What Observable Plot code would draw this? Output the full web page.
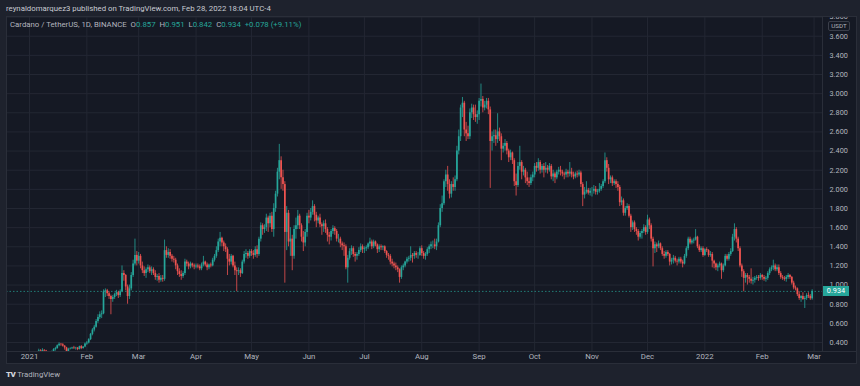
<!DOCTYPE html>
<html><head><meta charset="utf-8">
<script src="https://cdn.jsdelivr.net/npm/d3@7"></script>
<script src="https://cdn.jsdelivr.net/npm/@observablehq/plot@0.6"></script>
<style>
html,body{margin:0;padding:0;background:#1e222d;}
#wrap{position:relative;width:860px;height:386px;background:#1e222d;overflow:hidden;font-family:Roboto,"Noto Sans",sans-serif;}
#title{position:absolute;left:6px;top:4px;font-size:7.8px;color:#c8cbd2;white-space:pre;line-height:10px;}
#chart{position:absolute;left:6px;top:16px;width:851px;height:348px;}
#frame{position:absolute;left:6px;top:16px;width:849px;height:346px;border:1px solid #2a2e39;pointer-events:none;}
#hsep{position:absolute;left:6px;top:351px;width:851px;height:1px;background:#2a2e39;}
#legend{position:absolute;left:10px;top:20px;font-size:7.8px;color:#b2b5be;white-space:pre;line-height:10px;}
#legend .v{color:#26a69a;}
#usdt{position:absolute;left:828px;top:21px;width:20px;height:8px;border:1px solid #3a3e49;border-radius:2px;font-size:6.2px;color:#b2b5be;text-align:center;line-height:8px;background:#151924;}
#tag{position:absolute;left:823px;width:26px;height:10px;background:#26a69a;color:#fff;font-size:7.3px;text-align:center;line-height:10px;}
#brand{position:absolute;left:6px;top:370px;font-size:7.8px;color:#b2b5be;white-space:pre;line-height:10px;}
#brand b{font-weight:900;letter-spacing:-0.5px;color:#d1d4dc;font-size:8px;}
</style></head>
<body><div id="wrap">
<div id="title">reynaldomarquez3 published on TradingView.com, Feb 28, 2022 18:04 UTC-4</div>
<div id="chart"></div>
<div id="hsep"></div>
<div id="frame"></div>
<div id="legend"></div>
<div id="usdt">USDT</div>
<div id="tag"></div>
<div id="brand"><b>TV</b> TradingView</div>
</div>
<script>
// Daily candles ADA/USDT (Binance), first day 2021-01-04; open = previous close
const firstDay = "2021-01-04";
const firstOpen = 0.205;
const close = [
// Jan 2021 (4..31)
0.225,0.258,0.312,0.305,0.318,0.311,0.291,0.275,0.286,0.304,0.325,0.336,0.366,0.382,0.376,0.362,0.343,0.300,0.330,0.334,0.343,0.336,0.341,0.328,0.357,0.337,0.352,0.384,
// Feb 2021
0.395,0.430,0.485,0.530,0.560,0.620,0.660,0.690,0.700,0.930,0.940,0.910,0.880,0.850,0.870,0.900,0.920,0.890,0.930,1.120,1.100,0.980,0.880,0.960,1.100,1.220,1.310,1.250,
// Mar 2021
1.30,1.20,1.15,1.12,1.16,1.18,1.14,1.16,1.12,1.08,1.09,1.05,1.07,1.06,1.36,1.31,1.34,1.30,1.27,1.26,1.20,1.14,1.11,1.09,1.12,1.24,1.22,1.19,1.22,1.20,1.19,
// Apr 2021
1.20,1.19,1.17,1.21,1.24,1.21,1.18,1.21,1.20,1.26,1.30,1.36,1.45,1.49,1.44,1.40,1.37,1.27,1.24,1.30,1.20,1.15,1.14,1.15,1.12,1.24,1.32,1.33,1.30,1.35,
// May 2021
1.33,1.31,1.37,1.32,1.48,1.62,1.58,1.60,1.70,1.64,1.72,1.58,1.80,1.95,2.18,2.30,2.12,2.05,1.55,1.75,1.45,1.48,1.30,1.58,1.62,1.72,1.62,1.50,1.44,1.55,1.72,
// Jun 2021
1.70,1.76,1.82,1.73,1.67,1.70,1.63,1.61,1.64,1.58,1.52,1.50,1.56,1.59,1.56,1.48,1.48,1.43,1.41,1.40,1.18,1.28,1.35,1.38,1.32,1.30,1.32,1.36,1.40,1.37,
// Jul 2021
1.38,1.39,1.43,1.45,1.40,1.45,1.42,1.37,1.40,1.39,1.40,1.35,1.31,1.30,1.24,1.22,1.20,1.18,1.16,1.08,1.18,1.20,1.24,1.27,1.28,1.31,1.30,1.33,1.31,1.31,1.38,
// Aug 2021
1.33,1.30,1.32,1.37,1.40,1.42,1.42,1.40,1.45,1.62,1.80,1.85,2.08,2.15,2.05,1.95,2.05,2.02,2.10,2.40,2.55,2.85,2.90,2.62,2.58,2.55,2.80,2.85,2.78,2.75,2.78,
// Sep 2021
2.92,2.94,2.85,2.88,2.92,2.83,2.50,2.55,2.56,2.52,2.60,2.55,2.42,2.45,2.48,2.40,2.33,2.38,2.30,2.08,2.04,2.24,2.28,2.18,2.20,2.12,2.08,2.06,2.12,2.15,
// Oct 2021
2.24,2.22,2.28,2.20,2.24,2.20,2.22,2.20,2.24,2.13,2.16,2.12,2.18,2.20,2.18,2.16,2.15,2.18,2.16,2.18,2.15,2.13,2.16,2.15,2.17,2.05,1.94,1.97,1.99,1.96,1.98,
// Nov 2021
1.98,2.00,1.97,1.98,2.00,2.03,2.08,2.30,2.22,2.10,2.12,2.06,2.08,2.05,2.02,1.86,1.88,1.75,1.80,1.82,1.72,1.60,1.65,1.58,1.56,1.50,1.54,1.56,1.60,1.55,
// Dec 2021
1.68,1.62,1.48,1.38,1.42,1.40,1.43,1.38,1.32,1.30,1.34,1.32,1.24,1.26,1.28,1.25,1.24,1.27,1.24,1.22,1.30,1.38,1.48,1.44,1.46,1.47,1.50,1.40,1.36,1.38,1.31,
// Jan 2022
1.37,1.36,1.31,1.32,1.25,1.22,1.18,1.20,1.22,1.15,1.20,1.30,1.27,1.32,1.35,1.50,1.58,1.48,1.38,1.20,1.14,1.07,1.10,1.08,1.06,1.04,1.05,1.07,1.08,1.07,1.10,
// Feb 2022
1.08,1.06,1.07,1.12,1.16,1.18,1.20,1.16,1.18,1.12,1.08,1.07,1.06,1.08,1.10,1.08,1.02,0.97,0.96,0.90,0.86,0.88,0.85,0.86,0.89,0.88,0.857,0.934
];
const high = [
0.240,0.265,0.330,0.325,0.335,0.325,0.318,0.298,0.300,0.310,0.336,0.350,0.375,0.397,0.390,0.388,0.368,0.350,0.340,0.345,0.350,0.360,0.350,0.348,0.362,0.368,0.358,0.395,
0.410,0.440,0.495,0.545,0.580,0.640,0.690,0.720,0.730,0.950,0.960,0.955,0.930,0.895,0.890,0.915,0.945,0.935,0.950,1.200,1.150,1.110,1.000,1.000,1.130,1.260,1.480,1.350,
1.34,1.32,1.24,1.19,1.18,1.21,1.20,1.19,1.18,1.15,1.11,1.12,1.10,1.10,1.47,1.40,1.38,1.37,1.32,1.30,1.28,1.22,1.17,1.15,1.14,1.27,1.26,1.24,1.24,1.23,1.22,
1.22,1.22,1.21,1.23,1.30,1.25,1.23,1.22,1.23,1.28,1.32,1.40,1.48,1.55,1.50,1.46,1.43,1.39,1.32,1.32,1.31,1.24,1.18,1.18,1.17,1.26,1.35,1.37,1.35,1.37,
1.37,1.36,1.40,1.41,1.50,1.65,1.64,1.63,1.74,1.72,1.75,1.76,1.85,1.98,2.22,2.47,2.34,2.20,2.08,1.82,1.78,1.60,1.52,1.62,1.70,1.78,1.74,1.64,1.56,1.58,1.75,
1.78,1.80,1.88,1.84,1.76,1.72,1.74,1.65,1.67,1.68,1.60,1.55,1.58,1.62,1.61,1.58,1.53,1.50,1.45,1.44,1.42,1.31,1.38,1.41,1.40,1.34,1.34,1.39,1.43,1.42,
1.40,1.41,1.44,1.49,1.47,1.47,1.46,1.43,1.42,1.42,1.41,1.41,1.36,1.33,1.32,1.27,1.24,1.23,1.20,1.17,1.20,1.22,1.25,1.29,1.30,1.40,1.33,1.35,1.35,1.34,1.40,
1.41,1.35,1.34,1.39,1.42,1.45,1.46,1.48,1.48,1.65,1.84,1.93,2.10,2.20,2.24,2.10,2.08,2.12,2.14,2.45,2.62,2.88,2.96,2.92,2.70,2.66,2.84,2.89,2.88,2.88,2.82,
2.95,3.10,2.97,2.92,2.95,2.95,2.86,2.60,2.62,2.62,2.79,2.64,2.58,2.48,2.52,2.50,2.42,2.41,2.39,2.32,2.16,2.28,2.45,2.30,2.24,2.22,2.18,2.12,2.15,2.18,
2.27,2.28,2.32,2.30,2.26,2.27,2.28,2.25,2.27,2.26,2.20,2.18,2.20,2.23,2.24,2.20,2.18,2.21,2.20,2.28,2.22,2.18,2.18,2.19,2.20,2.19,2.07,2.02,2.08,2.01,2.01,
2.02,2.04,2.03,2.00,2.06,2.05,2.10,2.38,2.33,2.26,2.14,2.14,2.10,2.10,2.08,2.04,1.92,1.90,1.82,1.85,1.84,1.74,1.67,1.67,1.60,1.58,1.56,1.58,1.63,1.62,
1.73,1.70,1.64,1.50,1.45,1.44,1.46,1.44,1.40,1.35,1.36,1.36,1.33,1.28,1.31,1.30,1.27,1.29,1.29,1.26,1.32,1.40,1.50,1.50,1.48,1.49,1.58,1.51,1.42,1.40,1.40,
1.38,1.39,1.37,1.35,1.34,1.26,1.23,1.22,1.24,1.23,1.22,1.32,1.32,1.34,1.38,1.53,1.64,1.60,1.50,1.40,1.22,1.16,1.12,1.12,1.10,1.17,1.08,1.09,1.10,1.10,1.12,
1.11,1.10,1.09,1.14,1.18,1.20,1.26,1.22,1.21,1.21,1.14,1.10,1.09,1.10,1.12,1.11,1.09,1.04,0.99,0.97,0.93,0.89,0.92,0.88,0.91,0.92,0.90,0.951
];
const low = [
0.200,0.220,0.250,0.290,0.295,0.300,0.280,0.255,0.268,0.278,0.300,0.310,0.330,0.355,0.360,0.352,0.320,0.295,0.285,0.322,0.328,0.330,0.320,0.315,0.322,0.325,0.330,0.345,
0.370,0.385,0.420,0.470,0.510,0.550,0.600,0.640,0.650,0.690,0.870,0.880,0.850,0.690,0.820,0.850,0.880,0.860,0.870,0.920,1.040,0.940,0.800,0.850,0.940,1.080,1.200,1.200,
1.22,1.17,1.12,1.09,1.07,1.13,1.12,1.10,1.10,1.05,1.04,1.02,1.03,1.03,1.04,1.28,1.28,1.27,1.24,1.23,1.16,1.10,1.08,1.05,1.07,1.10,1.19,1.16,1.17,1.18,1.16,
1.17,1.17,1.15,1.15,1.19,1.19,1.15,1.16,1.18,1.19,1.24,1.28,1.34,1.40,1.40,1.35,1.34,1.10,1.20,1.21,1.18,1.10,0.93,1.10,1.08,1.11,1.22,1.28,1.27,1.28,
1.30,1.27,1.29,1.28,1.30,1.45,1.52,1.54,1.56,1.55,1.60,1.55,1.50,1.76,1.92,2.10,2.00,1.98,1.02,1.36,1.40,1.30,1.15,1.27,1.48,1.58,1.58,1.45,1.35,1.40,1.50,
1.64,1.67,1.73,1.66,1.60,1.64,1.60,1.52,1.55,1.54,1.45,1.42,1.46,1.53,1.52,1.45,1.44,1.39,1.36,1.30,1.16,1.02,1.26,1.31,1.29,1.24,1.26,1.30,1.34,1.33,
1.33,1.35,1.37,1.40,1.37,1.38,1.40,1.33,1.34,1.36,1.36,1.33,1.28,1.26,1.21,1.19,1.17,1.15,1.13,1.02,1.06,1.15,1.18,1.22,1.24,1.25,1.23,1.27,1.28,1.27,1.30,
1.30,1.27,1.26,1.30,1.33,1.37,1.38,1.37,1.36,1.44,1.60,1.76,1.83,2.02,1.98,1.90,1.91,1.98,1.98,2.08,2.36,2.50,2.75,2.55,2.50,2.52,2.52,2.74,2.72,2.70,2.68,
2.72,2.86,2.80,2.82,2.84,2.78,2.01,2.40,2.48,2.45,2.48,2.50,2.30,2.38,2.40,2.36,2.28,2.30,2.26,2.03,1.93,2.02,2.20,2.10,2.14,2.06,2.04,2.02,2.04,2.08,
2.12,2.18,2.19,2.16,2.17,2.12,2.17,2.16,2.18,2.10,2.08,2.06,2.10,2.15,2.14,2.13,2.10,2.12,2.12,2.13,2.12,2.10,2.11,2.12,2.13,2.02,1.82,1.90,1.95,1.94,1.93,
1.92,1.95,1.94,1.94,1.96,1.98,2.01,2.06,2.18,2.05,2.06,2.03,2.04,2.01,1.98,1.82,1.83,1.72,1.72,1.78,1.70,1.55,1.57,1.55,1.52,1.46,1.48,1.48,1.54,1.52,
1.53,1.58,1.45,1.19,1.33,1.34,1.38,1.36,1.30,1.27,1.28,1.30,1.20,1.21,1.22,1.23,1.20,1.22,1.22,1.18,1.21,1.28,1.36,1.42,1.42,1.43,1.46,1.38,1.34,1.34,1.29,
1.30,1.34,1.29,1.29,1.18,1.17,1.15,1.14,1.18,1.06,1.13,1.19,1.25,1.25,1.30,1.34,1.46,1.44,1.35,1.18,1.08,0.93,1.02,1.00,1.02,1.01,1.00,1.02,1.05,1.04,1.05,
1.05,1.04,1.03,1.05,1.10,1.14,1.15,1.14,1.14,1.10,1.06,1.05,1.04,1.03,1.06,1.06,1.00,0.95,0.94,0.88,0.84,0.82,0.84,0.755,0.84,0.86,0.84,0.842
];
const priceTicks = [0.4,0.6,0.8,1.0,1.2,1.4,1.6,1.8,2.0,2.2,2.4,2.6,2.8,3.0,3.2,3.4,3.6,3.8];
const monthTicks = ["2021-01-01","2021-02-01","2021-03-01","2021-04-01","2021-05-01","2021-06-01","2021-07-01","2021-08-01","2021-09-01","2021-10-01","2021-11-01","2021-12-01","2022-01-01","2022-02-01","2022-03-01"];
const monthLabels = ["2021","Feb","Mar","Apr","May","Jun","Jul","Aug","Sep","Oct","Nov","Dec","2022","Feb","Mar"];
const xDomain = ["2020-12-19T13:40Z","2022-03-05T14:00Z"];
const yDomain = [0.306, 3.806];
const legendInfo = {symbol:"Cardano / TetherUS, 1D, BINANCE", o:"0.857", h:"0.951", l:"0.842", c:"0.934", chg:"+0.078 (+9.11%)"};
const lastPrice = 0.934;

const UP = "#26a69a", DOWN = "#ef5350";
const DAY = 864e5;
const t0 = Date.parse(firstDay + "T00:00Z");
const candles = close.map((c, i) => ({
  date: new Date(t0 + i * DAY),
  open: i === 0 ? firstOpen : close[i - 1],
  high: high[i], low: low[i], close: c
}));
const ups = candles.filter(d => d.close >= d.open);
const downs = candles.filter(d => d.close < d.open);
const ticksX = monthTicks.map(s => new Date(s + "T00:00Z"));
const labelOf = new Map(ticksX.map((d, i) => [+d, monthLabels[i]]));
const fmt = d3.format(".3f");

const plot = Plot.plot({
  width: 851, height: 348,
  marginLeft: 0, marginRight: 35, marginTop: 0, marginBottom: 13,
  style: {background: "#151924", color: "#b2b5be", fontFamily: "Roboto, sans-serif", fontSize: "7.3px", overflow: "hidden"},
  x: {type: "utc", domain: xDomain.map(s => new Date(s))},
  y: {domain: yDomain},
  marks: [
    Plot.ruleY(priceTicks, {stroke: "#232733", strokeWidth: 1}),
    Plot.ruleX(ticksX, {stroke: "#232733", strokeWidth: 1}),
    Plot.ruleY([lastPrice], {stroke: UP, strokeOpacity: 0.7, strokeDasharray: "1.5,2"}),
    Plot.ruleX(ups, {x: "date", y1: "low", y2: "high", stroke: UP, strokeWidth: 0.8, clip: true}),
    Plot.ruleX(downs, {x: "date", y1: "low", y2: "high", stroke: DOWN, strokeWidth: 0.8, clip: true}),
    Plot.ruleX(ups, {x: "date", y1: "open", y2: "close", stroke: UP, strokeWidth: 1.7, clip: true}),
    Plot.ruleX(downs, {x: "date", y1: "open", y2: "close", stroke: DOWN, strokeWidth: 1.7, clip: true}),
    Plot.axisY({anchor: "right", ticks: [], label: null, tickSize: 0}),
    Plot.text(priceTicks, {y: d => d, text: d => fmt(d), frameAnchor: "right", textAnchor: "start", dx: 7, fill: "#b2b5be", fontSize: 7.3}),
    Plot.axisX({ticks: ticksX, tickFormat: d => labelOf.get(+d), tickSize: 0, tickPadding: 2, label: null, fill: "#b2b5be", fontSize: 7.8}),
    Plot.ruleX([new Date(xDomain[1])], {stroke: "#2a2e39", strokeWidth: 1})
  ]
});
document.getElementById("chart").appendChild(plot);

const L = legendInfo;
document.getElementById("legend").innerHTML =
  `${L.symbol}  O<span class="v">${L.o}</span>  H<span class="v">${L.h}</span>  L<span class="v">${L.l}</span>  C<span class="v">${L.c}</span>  <span class="v">${L.chg}</span>`;
const tag = document.getElementById("tag");
tag.textContent = lastPrice.toFixed(3);
tag.style.top = (16 + plot.scale("y").apply(lastPrice) - 5) + "px";
</script>
</body></html>
